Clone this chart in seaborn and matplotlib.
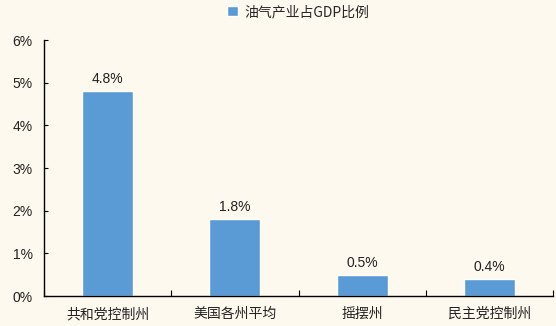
import matplotlib
matplotlib.use("Agg")
import matplotlib.pyplot as plt
import seaborn as sns
import pandas as pd
from matplotlib.ticker import FuncFormatter, FixedLocator

categories = ["共和党控制州", "美国各州平均", "摇摆州", "民主党控制州"]
values = [4.8, 1.8, 0.5, 0.4]
value_labels = ["4.8%", "1.8%", "0.5%", "0.4%"]
series_name = "油气产业占GDP比例"
y_ticks = [0, 1, 2, 3, 4, 5, 6]

bg = "#FEF9EE"
bar_color = "#5B9BD5"

sns.set_theme(style="white")
plt.rcParams["font.family"] = ["Liberation Sans", "Noto Sans CJK SC", "DejaVu Sans"]

df = pd.DataFrame({"category": categories, "value": values})

fig = plt.figure(figsize=(5.56, 3.26), dpi=100, facecolor=bg)
ax = fig.add_axes([0.079, 0.092, 0.916, 0.785], facecolor=bg)

sns.barplot(data=df, x="category", y="value", color=bar_color, width=0.4,
            saturation=1, ax=ax, label=series_name)

for i, (v, t) in enumerate(zip(values, value_labels)):
    ax.text(i, v + 0.12, t, ha="center", va="bottom", fontsize=10, color="#222222")

ax.set_xlim(-0.5, len(categories) - 0.5)
ax.set_ylim(0, 6)
ax.yaxis.set_major_locator(FixedLocator(y_ticks))
ax.yaxis.set_major_formatter(FuncFormatter(lambda v, p: f"{v:.0f}%"))
ax.set_xlabel("")
ax.set_ylabel("")

for s in ["top", "right"]:
    ax.spines[s].set_visible(False)
for s in ["left", "bottom"]:
    ax.spines[s].set_color("#000000")
    ax.spines[s].set_linewidth(1.0)

ax.tick_params(axis="y", direction="in", length=3, width=0.8, color="#000000",
               labelsize=10, labelcolor="#222222", pad=8, left=True)
ax.tick_params(axis="x", length=0, labelsize=10, labelcolor="#222222", pad=8)
for lbl in ax.get_xticklabels():
    lbl.set_fontfamily(["Noto Sans CJK SC", "DejaVu Sans"])

# category separators on the x axis
ax.set_xticks([i - 0.5 for i in range(len(categories) + 1)], minor=True)
ax.tick_params(axis="x", which="minor", direction="in", length=4, width=0.8,
               color="#000000", bottom=True)

leg = ax.legend(loc="center", bbox_to_anchor=(0.5, 1.11), frameon=False,
                handlelength=0.75, handleheight=0.75, handletextpad=0.5,
                prop={"family": ["Noto Sans CJK SC", "DejaVu Sans"], "size": 10})

fig.savefig("out.png", dpi=100, facecolor=bg)
